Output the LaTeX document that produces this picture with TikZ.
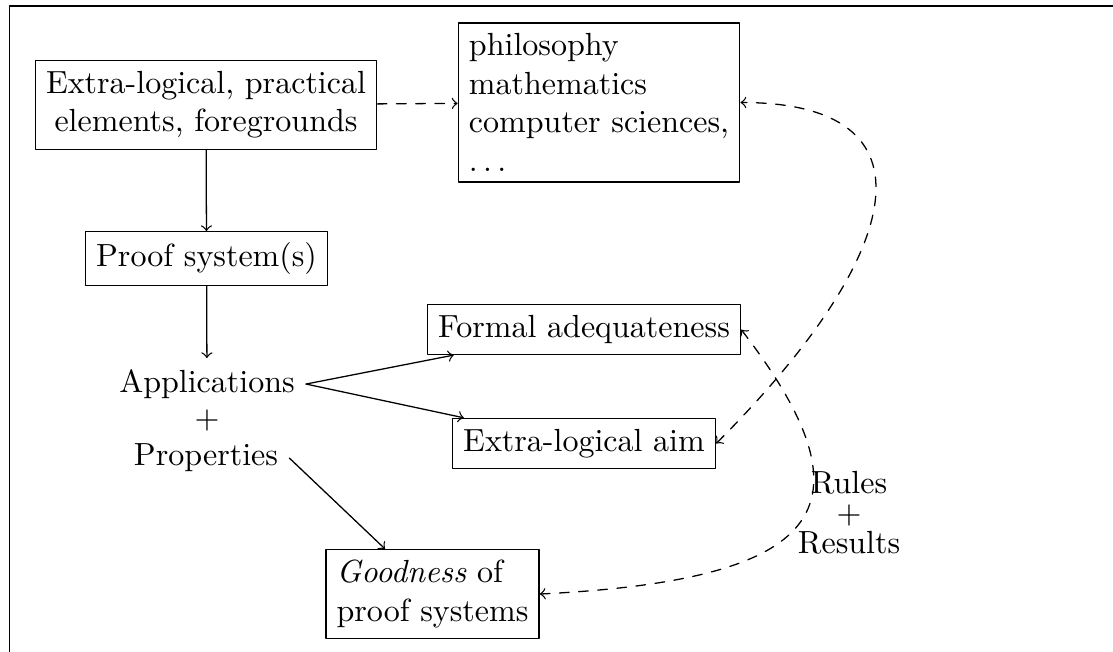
\documentclass[tikz,border=0pt]{standalone}
\begin{document}
\begin{tikzpicture}[line cap=round,line join=round,>=to,
		box/.style={draw,align=left}]
	\useasboundingbox (0,0) rectangle (12.216,-7.156);
	\draw (0.104,-7.156) -- (0.104,-0.066) -- (12.216,-0.066);
	\node[box,align=center] (ext) at (2.261,-1.152) {Extra-logical, practical\\elements, foregrounds};
	\node[box] (fields) at (6.575,-1.125) {philosophy\\mathematics\\computer sciences,\\$\ldots$};
	\node[box] (sys) at (2.267,-2.837) {Proof system(s)};
	\node (appl) at (2.272,-4.215) {Applications};
	\node (plus) at (2.272,-4.610) {+};
	\node (prop) at (2.261,-5.027) {Properties};
	\node[box] (formal) at (6.410,-3.617) {Formal adequateness};
	\node[box] (aim) at (6.410,-4.868) {Extra-logical aim};
	\node[box] (good) at (4.747,-6.520) {\emph{Goodness} of\\proof systems};
	\node[align=center] (rules) at (9.319,-5.631) {Rules\\[-2.6pt]+\\[-2.6pt]Results};
	\draw[->] (ext) -- (sys);
	\draw[->] (sys) -- (appl);
	\draw[->] (appl.east) -- (formal);
	\draw[->] (appl.east) -- (aim);
	\draw[->] (prop.east) -- (good);
	\draw[->,dashed] (ext) -- (fields);
	\draw[<->,dashed] (aim.east) .. controls +(2.096,2.096) and +(2.195,0) .. (fields.east);
	\draw[<->,dashed] (formal.east) .. controls +(1.537,-1.998) and +(3.073,0.154) .. (good.east);
\end{tikzpicture}
\end{document}
